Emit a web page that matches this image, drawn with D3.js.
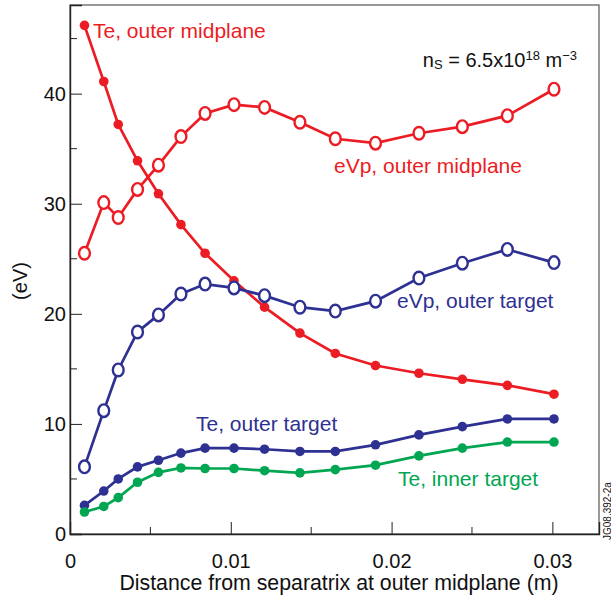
<!DOCTYPE html>
<html>
  <head>
    <style>
    body {
        margin: 0px;
        overflow: hidden;
        background: white;
    }
    text {
        font-family: "Liberation Sans", Arial, sans-serif;
    }
    </style>
    <script src="https://d3js.org/d3.v7.min.js"></script>
  </head>
  <body>
    <svg width="611" height="604"></svg>
    <script>
        // distance from separatrix (m)
        const distance = [0.0009, 0.0021, 0.0030, 0.0042, 0.0055, 0.0069, 0.0084, 0.0102,
                          0.0121, 0.0143, 0.0165, 0.0190, 0.0217, 0.0244, 0.0272, 0.0301];

        // series values (eV)
        const teOuterMid = [46.2, 41.1, 37.2, 33.9, 30.9, 28.1, 25.5, 23.0,
                            20.6, 18.25, 16.4, 15.3, 14.6, 14.05, 13.5, 12.7];
        const evpOuterMid = [25.5, 30.1, 28.75, 31.3, 33.5, 36.1, 38.2, 39.0,
                             38.75, 37.4, 35.9, 35.5, 36.4, 37.0, 38.0, 40.4];
        const evpOuterTarget = [6.1, 11.2, 14.9, 18.35, 19.9, 21.8, 22.7, 22.35,
                                21.65, 20.6, 20.25, 21.15, 23.25, 24.6, 25.85, 24.65];
        const teOuterTarget = [2.6, 3.9, 5.0, 6.1, 6.7, 7.35, 7.8, 7.8,
                               7.7, 7.5, 7.5, 8.1, 9.0, 9.75, 10.45, 10.45];
        const teInnerTarget = [2.0, 2.5, 3.3, 4.7, 5.6, 6.0, 5.95, 5.95,
                               5.75, 5.55, 5.85, 6.25, 7.1, 7.8, 8.35, 8.35];

        const xTicks = [0, 0.01, 0.02, 0.03];
        const xMinorTicks = [0.005, 0.015, 0.025];
        const yTicks = [0, 10, 20, 30, 40];
        const yMinorTicks = [5, 15, 25, 35, 45];

        const red = '#ec1c24';
        const blue = '#2e3192';
        const green = '#00a651';

        const series = [
            {name: 'Te, outer midplane', values: teOuterMid, color: red, open: false},
            {name: 'eVp, outer midplane', values: evpOuterMid, color: red, open: true},
            {name: 'eVp, outer target', values: evpOuterTarget, color: blue, open: true},
            {name: 'Te, outer target', values: teOuterTarget, color: blue, open: false},
            {name: 'Te, inner target', values: teInnerTarget, color: green, open: false}
        ];

        const svg = d3.select('svg');
        const margin = { top: 5, right: 12, bottom: 70, left: 70 };
        const width = +svg.attr('width');
        const height = +svg.attr('height');
        const innerWidth = width - margin.left - margin.right;
        const innerHeight = height - margin.top - margin.bottom;

        const xScale = d3.scaleLinear().domain([0, 0.0329]).range([0, innerWidth]);
        const yScale = d3.scaleLinear().domain([0, 48.05]).range([innerHeight, 0]);

        const g = svg.append('g')
            .attr('transform', `translate(${margin.left},${margin.top})`);

        //frame
        g.append('rect')
            .attr('width', innerWidth)
            .attr('height', innerHeight)
            .attr('fill', 'none')
            .attr('stroke', '#555')
            .attr('stroke-width', 1.2);

        //axes with inward ticks
        const xAxisG = g.append('g')
            .attr('transform', `translate(0,${innerHeight})`)
            .call(d3.axisBottom(xScale).tickValues(xTicks).tickSize(-12).tickPadding(20)
                .tickFormat(d => d === 0 ? '0' : d3.format('.2f')(d)));
        xAxisG.append('g').selectAll('line').data(xMinorTicks)
            .enter().append('line')
            .attr('x1', d => xScale(d)).attr('x2', d => xScale(d))
            .attr('y1', 0).attr('y2', -7)
            .attr('stroke', '#222');

        const yAxisG = g.append('g')
            .call(d3.axisLeft(yScale).tickValues(yTicks).tickSize(-12).tickPadding(20));
        yAxisG.append('g').selectAll('line').data(yMinorTicks)
            .enter().append('line')
            .attr('y1', d => yScale(d)).attr('y2', d => yScale(d))
            .attr('x1', 0).attr('x2', 7)
            .attr('stroke', '#222');

        [xAxisG, yAxisG].forEach(a => {
            a.attr('font-size', 20).attr('font-family', '"Liberation Sans", Arial, sans-serif');
            a.select('.domain').attr('stroke', '#222').attr('stroke-width', 1.4);
            a.selectAll('.tick line').attr('stroke', '#222');
            a.selectAll('.tick text').attr('fill', '#111');
        });
        yAxisG.selectAll('.tick text').attr('x', -4);

        //lines and markers
        const line = d3.line()
            .x((d, i) => xScale(distance[i]))
            .y(d => yScale(d));

        series.forEach(s => {
            g.append('path')
                .datum(s.values)
                .attr('d', line)
                .attr('fill', 'none')
                .attr('stroke', s.color)
                .attr('stroke-width', 2.7);
            if (s.open) {
                g.selectAll(null).data(s.values)
                    .enter().append('ellipse')
                    .attr('cx', (d, i) => xScale(distance[i]))
                    .attr('cy', d => yScale(d))
                    .attr('rx', 5.4)
                    .attr('ry', 6.3)
                    .attr('fill', 'white')
                    .attr('stroke', s.color)
                    .attr('stroke-width', 2.4);
            } else {
                g.selectAll(null).data(s.values)
                    .enter().append('circle')
                    .attr('cx', (d, i) => xScale(distance[i]))
                    .attr('cy', d => yScale(d))
                    .attr('r', 4.8)
                    .attr('fill', s.color);
            }
        });

        //series labels
        const labels = [
            {text: 'Te, outer midplane', x: 93, y: 38, color: red},
            {text: 'eVp, outer midplane', x: 334, y: 173, color: red},
            {text: 'eVp, outer target', x: 397, y: 308, color: blue},
            {text: 'Te, outer target', x: 196, y: 431, color: blue},
            {text: 'Te, inner target', x: 398, y: 486, color: green}
        ];
        svg.selectAll('.series-label').data(labels)
            .enter().append('text')
            .attr('class', 'series-label')
            .attr('x', d => d.x)
            .attr('y', d => d.y)
            .attr('fill', d => d.color)
            .attr('font-size', '21px')
            .text(d => d.text);

        //density annotation
        const ns = svg.append('text')
            .attr('x', 577)
            .attr('y', 66.5)
            .attr('text-anchor', 'end')
            .attr('font-size', '20px')
            .attr('fill', '#111');
        ns.append('tspan').text('n');
        ns.append('tspan').attr('font-size', '13px').attr('dy', 2).text('S');
        ns.append('tspan').attr('dy', -2).text(' = 6.5x10');
        ns.append('tspan').attr('font-size', '13px').attr('dy', -7).text('18');
        ns.append('tspan').attr('dy', 7).text(' m');
        ns.append('tspan').attr('font-size', '13px').attr('dy', -7).text('\u22123');

        //axis titles
        svg.append('text')
            .attr('x', 339)
            .attr('y', 590)
            .attr('text-anchor', 'middle')
            .attr('font-size', '21.3px')
            .attr('fill', '#111')
            .text('Distance from separatrix at outer midplane (m)');

        svg.append('text')
            .attr('transform', 'translate(27,281) rotate(-90)')
            .attr('text-anchor', 'middle')
            .attr('font-size', '20px')
            .attr('fill', '#111')
            .text('(eV)');

        svg.append('text')
            .attr('transform', 'translate(611,540) rotate(-90)')
            .attr('font-size', '10px')
            .attr('fill', '#111')
            .text('JG08.392-2a');
    </script>
  </body>
</html>
